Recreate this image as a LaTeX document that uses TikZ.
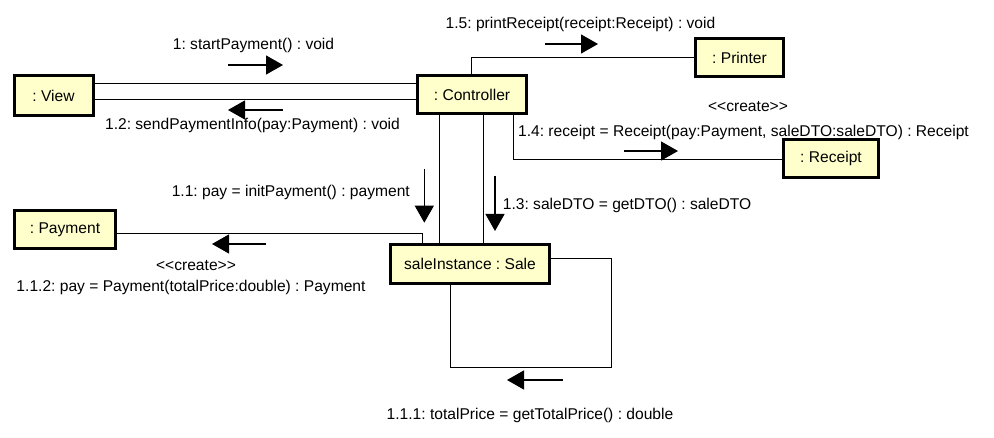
\documentclass[tikz,border=0pt]{standalone}
\usepackage{fontspec}
\setmainfont{Liberation Sans}
\usetikzlibrary{arrows.meta}
\definecolor{objfill}{RGB}{255,255,204}
\frenchspacing
\tikzset{
  obj/.style={draw=black, fill=objfill, line width=3pt, inner sep=0pt, align=center},
  conn/.style={draw=black, line width=1pt},
  msg/.style={draw=black, line width=1.2pt, -{Triangle[length=17pt,width=19pt]}},
  lbl/.style={inner sep=0pt, text=black},
}
\begin{document}
\begin{tikzpicture}[x=1pt, y=-1pt, font=\fontsize{15.6}{18}\selectfont\frenchspacing]
\useasboundingbox (0,0) rectangle (994,438);
\fill[white] (0,0) rectangle (994,438);

% objects
\node[obj, minimum width=79pt, minimum height=40pt] (view) at (53.5,95.5) {: View};
\node[obj, minimum width=109pt, minimum height=38.5pt] (ctrl) at (472,94.75) {: Controller};
\node[obj, minimum width=88pt, minimum height=38pt] (printer) at (739.5,57.5) {: Printer};
\node[obj, minimum width=95pt, minimum height=38pt] (receipt) at (831,158.5) {: Receipt};
\node[obj, minimum width=101.5pt, minimum height=38pt] (payment) at (65,229.5) {: Payment};
\node[obj, minimum width=159pt, minimum height=39pt] (sale) at (470,264) {saleInstance : Sale};

% connectors
\draw[conn] (view.east |- 0,84) -- (ctrl.west |- 0,84);
\draw[conn] (view.east |- 0,99.3) -- (ctrl.west |- 0,99.3);
\draw[conn] (ctrl.north -| 471,0) |- (printer.west);
\draw[conn] (ctrl.south -| 513,0) |- (receipt.west |- 0,160);
\draw[conn] (ctrl.south -| 439,0) -- (sale.north -| 439,0);
\draw[conn] (ctrl.south -| 483,0) -- (sale.north -| 483,0);
\draw[conn] (payment.east |- 0,234) -| (sale.north -| 422,0);
\draw[conn] (sale.east |- 0,259) -| (611,368) -| (sale.south -| 450,0);

% message arrows
\draw[msg] (228,65) -- (283,65);
\draw[msg] (283,110) -- (228,110);
\draw[msg] (545,44) -- (598,44);
\draw[msg] (624,151) -- (678,151);
\draw[msg] (424.3,169) -- (424.3,222.7);
\draw[msg] (495,175.7) -- (495,231);
\draw[msg] (266,244) -- (212,244);
\draw[msg] (563,380) -- (507,380);

% labels
\node[lbl, anchor=base] (l1) at (253.5,49.3) {1: startPayment() : void};
\node[lbl, anchor=base] (l12) at (252.5,129.5) {1.2: sendPaymentInfo(pay:Payment) : void};
\node[lbl, anchor=base] (l15) at (580.5,28.5) {1.5: printReceipt(receipt:Receipt) : void};
\node[lbl, anchor=base] (c14) at (748,112) {<{}<create>{}>};
\node[lbl, anchor=base] (l14) at (743.5,136.5) {1.4: receipt = Receipt(pay:Payment, saleDTO:saleDTO) : Receipt};
\node[lbl, anchor=base east] (l11) at (410,196.7) {1.1: pay = initPayment() : payment};
\node[lbl, anchor=base west] (l13) at (502.7,210) {1.3: saleDTO = getDTO() : saleDTO};
\node[lbl, anchor=base] (c112) at (196,271) {<{}<create>{}>};
\node[lbl, anchor=base] (l112) at (191,292) {1.1.2: pay = Payment(totalPrice:double) : Payment};
\node[lbl, anchor=base] (l111) at (530,420) {1.1.1: totalPrice = getTotalPrice() : double};
\end{tikzpicture}
\end{document}
